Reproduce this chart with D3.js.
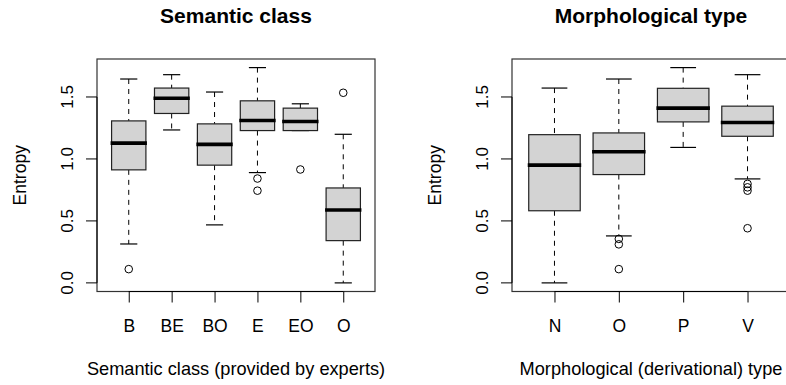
<!DOCTYPE html>
<html>
<head>
<meta charset="utf-8">
<script src="https://cdn.jsdelivr.net/npm/d3@7"></script>
<style>
  body { margin: 0; background: #fff; }
  text { font-family: "Liberation Sans", Arial, Helvetica, sans-serif; }
</style>
</head>
<body>
<div id="chart"></div>
<script>
// Semantic class panel
var semClasses = ["B", "BE", "BO", "E", "EO", "O"];
var semLow  = [0.314, 1.234, 0.468, 0.890, 1.229, 0.000];
var semQ1   = [0.912, 1.367, 0.950, 1.229, 1.229, 0.341];
var semMed  = [1.128, 1.490, 1.118, 1.310, 1.302, 0.588];
var semQ3   = [1.307, 1.572, 1.283, 1.469, 1.410, 0.766];
var semHigh = [1.645, 1.680, 1.540, 1.737, 1.445, 1.199];
var semOut  = [[0.111], [], [], [0.842, 0.744], [0.915], [1.534]];

// Morphological type panel
var morphTypes = ["N", "O", "P", "V"];
var morphLow  = [0.000, 0.379, 1.093, 0.839];
var morphQ1   = [0.582, 0.874, 1.299, 1.183];
var morphMed  = [0.950, 1.058, 1.410, 1.294];
var morphQ3   = [1.196, 1.210, 1.570, 1.426];
var morphHigh = [1.572, 1.645, 1.737, 1.680];
var morphOut  = [[], [0.355, 0.311, 0.111], [], [0.799, 0.771, 0.744, 0.441]];

var yTicks = [0, 0.5, 1.0, 1.5];

var svg = d3.select("#chart").append("svg").attr("width", 786).attr("height", 385);
svg.append("rect").attr("width", 786).attr("height", 385).attr("fill", "#fff");

function drawPanel(opts) {
    var n = opts.cats.length;
    var top = 59, bottom = 291.5;

    var all = opts.low.concat(opts.high).concat(d3.merge(opts.out));
    var ymin = d3.min(all), ymax = d3.max(all);
    var pad = (ymax - ymin) * 0.04;
    var y = d3.scaleLinear().domain([ymin - pad, ymax + pad]).range([bottom, top]);
    var xpad = n * 0.04;
    var x = d3.scaleLinear().domain([0.5 - xpad, n + 0.5 + xpad]).range([opts.left, opts.right]);
    var unit = x(1) - x(0);
    var half = unit * 0.4;
    var staple = unit * 0.2;

    var g = svg.append("g");

    var boxes = g.selectAll(".box")
        .data(opts.cats.map((c, i) => ({
            i: i + 1, low: opts.low[i], q1: opts.q1[i], med: opts.med[i],
            q3: opts.q3[i], high: opts.high[i], out: opts.out[i]
        })))
        .enter().append("g").attr("class", "box");

    // whiskers (dashed)
    boxes.append("line")
        .attr("x1", d => x(d.i)).attr("x2", d => x(d.i))
        .attr("y1", d => y(d.high)).attr("y2", d => y(d.q3))
        .attr("stroke", "#000").attr("stroke-dasharray", "5,5");
    boxes.append("line")
        .attr("x1", d => x(d.i)).attr("x2", d => x(d.i))
        .attr("y1", d => y(d.q1)).attr("y2", d => y(d.low))
        .attr("stroke", "#000").attr("stroke-dasharray", "5,5");

    // staples
    boxes.append("line")
        .attr("x1", d => x(d.i) - staple).attr("x2", d => x(d.i) + staple)
        .attr("y1", d => y(d.high)).attr("y2", d => y(d.high))
        .attr("stroke", "#000").attr("stroke-width", 1.2);
    boxes.append("line")
        .attr("x1", d => x(d.i) - staple).attr("x2", d => x(d.i) + staple)
        .attr("y1", d => y(d.low)).attr("y2", d => y(d.low))
        .attr("stroke", "#000").attr("stroke-width", 1.2);

    // box
    boxes.append("rect")
        .attr("x", d => x(d.i) - half).attr("width", half * 2)
        .attr("y", d => y(d.q3)).attr("height", d => y(d.q1) - y(d.q3))
        .attr("fill", "#d3d3d3").attr("stroke", "#222").attr("stroke-width", 1.2);

    // median
    boxes.append("line")
        .attr("x1", d => x(d.i) - half - 1).attr("x2", d => x(d.i) + half + 1)
        .attr("y1", d => y(d.med)).attr("y2", d => y(d.med))
        .attr("stroke", "#000").attr("stroke-width", 3.6);

    // outliers
    boxes.selectAll("circle")
        .data(d => d.out.map(v => ({i: d.i, v: v})))
        .enter().append("circle")
        .attr("cx", d => x(d.i)).attr("cy", d => y(d.v)).attr("r", 3.8)
        .attr("fill", "none").attr("stroke", "#000").attr("stroke-width", 1);

    // plot frame
    g.append("rect")
        .attr("x", opts.left).attr("y", top)
        .attr("width", opts.right - opts.left).attr("height", bottom - top)
        .attr("fill", "none").attr("stroke", "#333").attr("stroke-width", 1.2);

    // y axis
    var yAxis = g.append("g")
        .attr("transform", `translate(${opts.left},0)`)
        .call(d3.axisLeft(y).tickValues(yTicks).tickFormat(d3.format(".1f")).tickSize(11).tickPadding(0));
    yAxis.select(".domain").remove();
    yAxis.selectAll("line").attr("stroke", "#000");
    yAxis.selectAll("text")
        .attr("x", null).attr("dy", null)
        .attr("transform", d => `translate(-24,${y(d)}) rotate(-90)`)
        .attr("y", 0)
        .attr("text-anchor", "middle")
        .attr("font-size", 17).attr("fill", "#000");
    yAxis.selectAll(".tick").attr("transform", null);
    yAxis.selectAll(".tick line").attr("y1", d => y(d)).attr("y2", d => y(d));
    g.append("line")
        .attr("x1", opts.left).attr("x2", opts.left)
        .attr("y1", y(yTicks[0])).attr("y2", y(yTicks[yTicks.length - 1]))
        .attr("stroke", "#000");

    // x axis
    var xAxis = g.append("g")
        .attr("transform", `translate(0,${bottom})`)
        .call(d3.axisBottom(x).tickValues(d3.range(1, n + 1))
            .tickFormat(d => opts.cats[d - 1]).tickSize(11).tickPadding(0));
    xAxis.select(".domain").remove();
    xAxis.selectAll("line").attr("stroke", "#000");
    xAxis.selectAll("text")
        .attr("y", 40).attr("dy", null)
        .attr("font-size", 17.5).attr("fill", "#000");
    g.append("line")
        .attr("x1", x(1)).attr("x2", x(n))
        .attr("y1", bottom).attr("y2", bottom)
        .attr("stroke", "#000");

    // titles
    var cx = (opts.left + opts.right) / 2;
    g.append("text").attr("x", cx).attr("y", 23)
        .attr("text-anchor", "middle").attr("font-size", 21).attr("font-weight", "bold")
        .text(opts.title);
    g.append("text").attr("x", cx).attr("y", 375)
        .attr("text-anchor", "middle").attr("font-size", 18.2)
        .text(opts.xlab);
    g.append("text")
        .attr("transform", `translate(${opts.left - 71},${(top + bottom) / 2}) rotate(-90)`)
        .attr("text-anchor", "middle").attr("font-size", 17.5)
        .text("Entropy");
}

drawPanel({
    cats: semClasses, low: semLow, q1: semQ1, med: semMed, q3: semQ3, high: semHigh, out: semOut,
    left: 97, right: 375, title: "Semantic class", xlab: "Semantic class (provided by experts)"
});
drawPanel({
    cats: morphTypes, low: morphLow, q1: morphQ1, med: morphMed, q3: morphQ3, high: morphHigh, out: morphOut,
    left: 512, right: 790, title: "Morphological type", xlab: "Morphological (derivational) type"
});
</script>
</body>
</html>
